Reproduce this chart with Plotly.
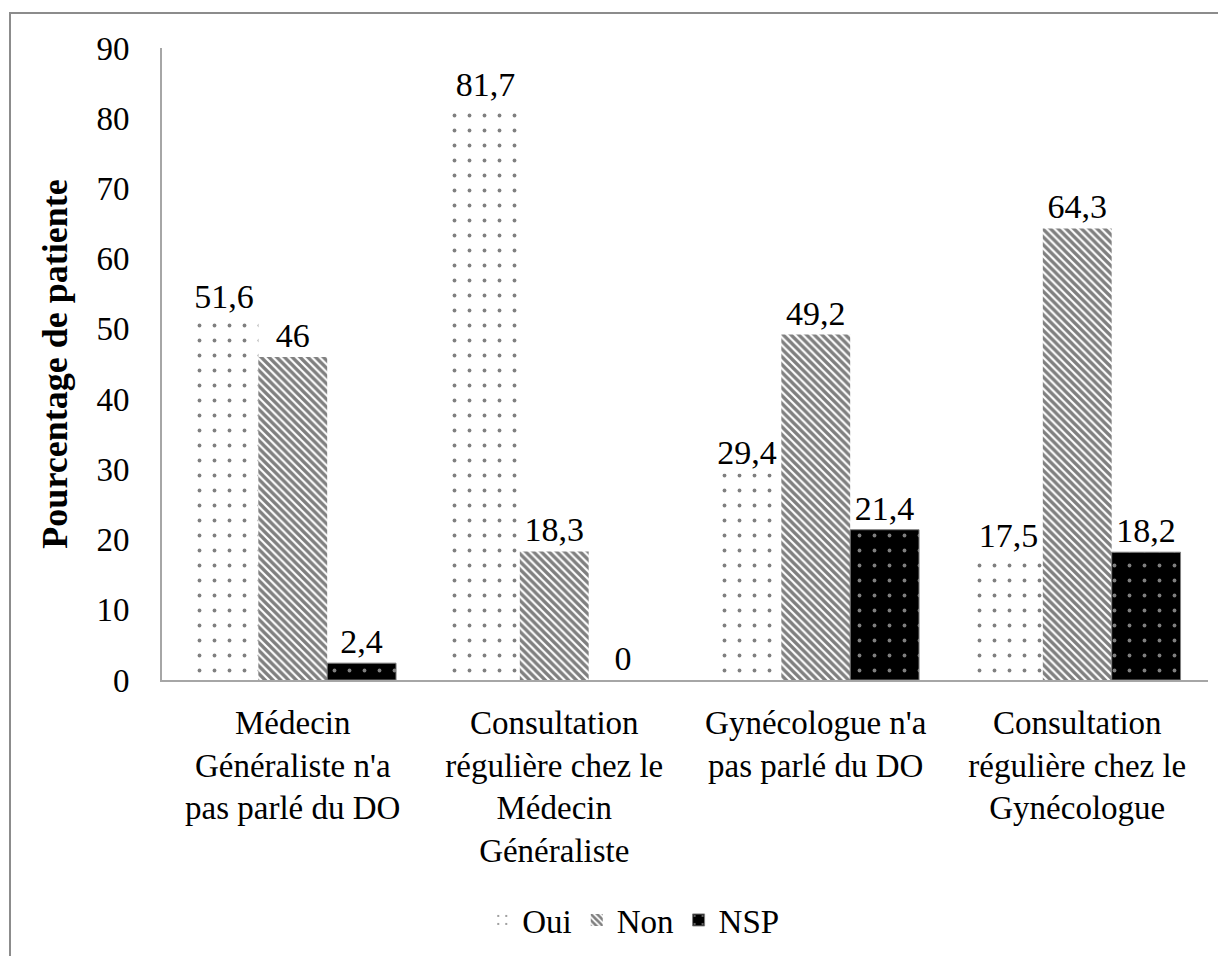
import plotly.graph_objects as go

# categories and series (percent of patients)
categories = [
    "Médecin<br>Généraliste n'a<br>pas parlé du DO",
    "Consultation<br>régulière chez le<br>Médecin<br>Généraliste",
    "Gynécologue n'a<br>pas parlé du DO",
    "Consultation<br>régulière chez le<br>Gynécologue",
]
oui_values = [51.6, 81.7, 29.4, 17.5]
non_values = [46, 18.3, 49.2, 64.3]
nsp_values = [2.4, 0, 21.4, 18.2]

FONT_FAMILY = "Liberation Serif, Times New Roman, serif"
AXIS_GREY = "#a6a6a6"


def _label(values):
    return [str(v).replace(".", ",") for v in values]


series = [
    ("Oui", oui_values, dict(shape=".", fgcolor="black", bgcolor="white", size=15, solidity=0.05), 0),
    ("Non", non_values, dict(shape="\\", fgcolor="black", bgcolor="white", size=5.5, solidity=0.6), 0),
    ("NSP", nsp_values, dict(shape=".", fgcolor="white", bgcolor="black", size=15, solidity=0.05), 1),
]

fig = go.Figure()
for name, values, pattern, line_w in series:
    fig.add_trace(go.Bar(
        name=name,
        x=categories,
        y=values,
        text=_label(values),
        textposition="outside",
        cliponaxis=False,
        textfont=dict(family=FONT_FAMILY, size=34, color="black"),
        marker=dict(
            color=pattern["bgcolor"],
            pattern=pattern,
            line=dict(color="#7f7f7f", width=[line_w if v > 0 else 0 for v in values]),
        ),
    ))

fig.update_layout(
    width=1226,
    height=956,
    paper_bgcolor="white",
    plot_bgcolor="white",
    barmode="group",
    bargap=0.21,
    bargroupgap=0,
    font=dict(family=FONT_FAMILY, size=33, color="black"),
    margin=dict(l=154, r=26, t=40, b=284, autoexpand=False),
    showlegend=True,
    legend=dict(
        orientation="h",
        x=0.51,
        xanchor="center",
        xref="container",
        yref="container",
        y=44 / 956,
        yanchor="middle",
        font=dict(family=FONT_FAMILY, size=33, color="black"),
        itemwidth=30,
    ),
    xaxis=dict(
        showline=True,
        linecolor=AXIS_GREY,
        linewidth=2,
        ticks="",
        ticklabelstandoff=12,
        tickfont=dict(family=FONT_FAMILY, size=33, color="black"),
    ),
    yaxis=dict(
        range=[0, 90],
        dtick=10,
        showgrid=False,
        zeroline=False,
        showline=True,
        linecolor=AXIS_GREY,
        linewidth=2,
        ticks="",
        ticklabelstandoff=24,
        tickfont=dict(family=FONT_FAMILY, size=33, color="black"),
        title=dict(
            text="<b>Pourcentage de patiente</b>",
            font=dict(family=FONT_FAMILY, size=36, color="black"),
            standoff=18,
        ),
    ),
    # outer chart frame (right and bottom edges fall outside the picture)
    shapes=[dict(
        type="rect", xref="paper", yref="paper",
        x0=-152 / 1046, x1=1.05, y0=-0.6, y1=1 + 35 / 632,
        line=dict(color="#8c8c8c", width=2),
        layer="below",
    )],
)

fig.write_html("out.html")
